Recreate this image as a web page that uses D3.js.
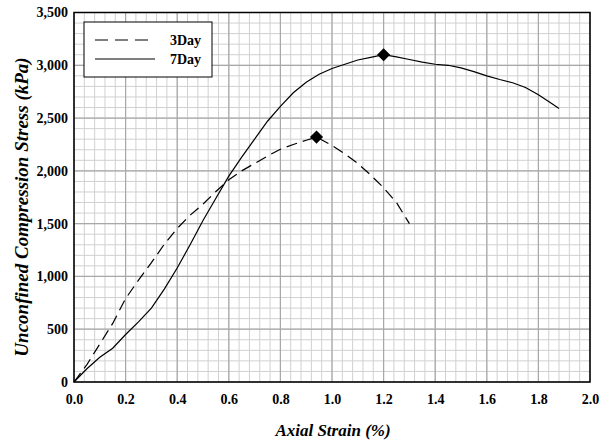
<!DOCTYPE html>
<html><head><meta charset="utf-8">
<script src="https://cdn.jsdelivr.net/npm/d3@7"></script>
<style>body{margin:0;background:#fff}svg{display:block}</style>
</head><body>
<script>
const strain3 = [0,0.05,0.1,0.15,0.2,0.25,0.3,0.35,0.4,0.45,0.5,0.55,0.6,0.65,0.7,0.75,0.8,0.85,0.9,0.94,1.0,1.05,1.1,1.15,1.2,1.25,1.3];
const stress3 = [0,165,360,555,790,965,1130,1305,1455,1580,1685,1805,1915,2000,2070,2140,2205,2250,2290,2320,2240,2160,2070,1960,1840,1700,1500];
const strain7 = [0,0.05,0.1,0.15,0.2,0.25,0.3,0.35,0.4,0.45,0.5,0.55,0.6,0.65,0.7,0.75,0.8,0.85,0.9,0.95,1.0,1.05,1.1,1.15,1.2,1.25,1.3,1.35,1.4,1.45,1.5,1.55,1.6,1.65,1.7,1.75,1.8,1.85,1.88];
const stress7 = [0,125,235,320,450,570,700,880,1080,1300,1530,1740,1950,2130,2300,2470,2610,2740,2840,2915,2970,3010,3050,3075,3100,3080,3055,3030,3010,3000,2975,2940,2900,2865,2835,2790,2720,2640,2590];
const peaks = [{x:0.94,y:2320},{x:1.2,y:3100}];
const xTicks = [0,0.2,0.4,0.6,0.8,1.0,1.2,1.4,1.6,1.8,2.0];
const yTicks = [0,500,1000,1500,2000,2500,3000,3500];
const seriesNames = ["3Day","7Day"];

const W=600,H=443, L=74, R=590, T=12.5, B=382;
const svg=d3.select("body").append("svg").attr("width",W).attr("height",H);
const x=d3.scaleLinear().domain([0,2]).range([L,R]);
const y=d3.scaleLinear().domain([0,3500]).range([B,T]);
const font="'Liberation Serif','Times New Roman',serif";

// grid
const g=svg.append("g");
const xMinor=d3.range(0,2.0001,0.04), yMinor=d3.range(0,3500.1,100);
g.selectAll(".vx").data(xMinor).join("line").attr("x1",d=>x(d)).attr("x2",d=>x(d)).attr("y1",T).attr("y2",B).attr("stroke","#d0d0d0").attr("stroke-width",1);
g.selectAll(".hy").data(yMinor).join("line").attr("y1",d=>y(d)).attr("y2",d=>y(d)).attr("x1",L).attr("x2",R).attr("stroke","#d0d0d0").attr("stroke-width",1);
g.selectAll(".vX").data(xTicks).join("line").attr("x1",d=>x(d)).attr("x2",d=>x(d)).attr("y1",T).attr("y2",B).attr("stroke","#a8a8a8").attr("stroke-width",1.2);
g.selectAll(".hY").data(yTicks).join("line").attr("y1",d=>y(d)).attr("y2",d=>y(d)).attr("x1",L).attr("x2",R).attr("stroke","#a8a8a8").attr("stroke-width",1.2);

// axes
const xa=svg.append("g").attr("transform",`translate(0,${B})`).call(d3.axisBottom(x).tickValues(xTicks).tickFormat(d3.format(".1f")).tickSize(0).tickPadding(12));
const ya=svg.append("g").attr("transform",`translate(${L},0)`).call(d3.axisLeft(y).tickValues(yTicks).tickFormat(d3.format(",")).tickSize(0).tickPadding(6));
[xa,ya].forEach(a=>{a.select(".domain").remove();a.selectAll("text").attr("font-family",font).attr("font-weight","bold").attr("font-size",14).attr("fill","#000");});

// frame
svg.append("rect").attr("x",L).attr("y",T).attr("width",R-L).attr("height",B-T).attr("fill","none").attr("stroke","#000").attr("stroke-width",1.5);

// lines
const line=d3.line().x(d=>x(d[0])).y(d=>y(d[1]));
const d3day=strain3.map((s,i)=>[s,stress3[i]]);
const d7day=strain7.map((s,i)=>[s,stress7[i]]);
svg.append("path").attr("d",line(d3day)).attr("fill","none").attr("stroke","#000").attr("stroke-width",1.2).attr("stroke-dasharray","11,6");
svg.append("path").attr("d",line(d7day)).attr("fill","none").attr("stroke","#000").attr("stroke-width",1.2);
svg.selectAll(".pk").data(peaks).join("path").attr("d",d3.symbol(d3.symbolDiamond2,110)()).attr("transform",d=>`translate(${x(d.x)},${y(d.y)})`).attr("fill","#000");

// legend
const lg=svg.append("g");
lg.append("rect").attr("x",84).attr("y",22).attr("width",128).attr("height",55).attr("fill","#fff").attr("stroke","#000").attr("stroke-width",1);
lg.append("line").attr("x1",95).attr("x2",149).attr("y1",40).attr("y2",40).attr("stroke","#000").attr("stroke-width",1.2).attr("stroke-dasharray","13,7");
lg.append("line").attr("x1",95).attr("x2",155).attr("y1",59).attr("y2",59).attr("stroke","#000").attr("stroke-width",1.2);
lg.selectAll("text").data(seriesNames).join("text").attr("x",170).attr("y",(d,i)=>45+i*19).text(d=>d).attr("font-family",font).attr("font-weight","bold").attr("font-size",14);

// titles
svg.append("text").attr("x",333).attr("y",436).attr("text-anchor","middle").attr("font-family",font).attr("font-weight","bold").attr("font-style","italic").attr("font-size",17).text("Axial Strain (%)");
svg.append("text").attr("transform",`translate(28,207) rotate(-90)`).attr("text-anchor","middle").attr("font-family",font).attr("font-weight","bold").attr("font-style","italic").attr("font-size",19).text("Unconfined Compression Stress (kPa)");
</script>
</body></html>
